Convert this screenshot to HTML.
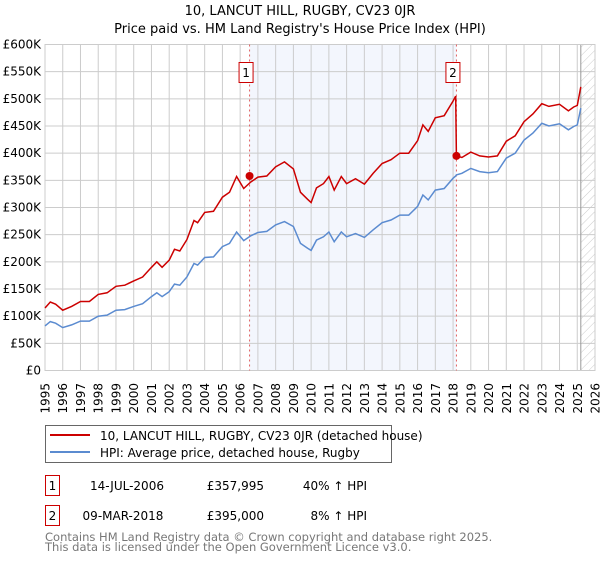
<!DOCTYPE html>
<html><head><meta charset="utf-8"><style>
body{margin:0;background:#fff;}
svg text{font-family:"DejaVu Sans","Liberation Sans",sans-serif;}
</style></head><body>
<svg width="600" height="560" xmlns="http://www.w3.org/2000/svg">
<defs><pattern id="hatch" width="6" height="6" patternUnits="userSpaceOnUse" patternTransform="rotate(45)"><line x1="0" y1="0" x2="0" y2="6" stroke="#ccc" stroke-width="1"/></pattern></defs>
<text x="300" y="15" text-anchor="middle" font-size="13">10, LANCUT HILL, RUGBY, CV23 0JR</text>
<text x="300" y="33" text-anchor="middle" font-size="13">Price paid vs. HM Land Registry's House Price Index (HPI)</text>
<g id="plot"></g>
<g>
<rect x="45.5" y="425.5" width="346" height="37" fill="#fff" stroke="#666"/>
<line x1="50" y1="435" x2="90" y2="435" stroke="#cc0000" stroke-width="2"/>
<text x="100" y="440" font-size="12">10, LANCUT HILL, RUGBY, CV23 0JR (detached house)</text>
<line x1="50" y1="452" x2="90" y2="452" stroke="#5b8bd0" stroke-width="2"/>
<text x="100" y="457" font-size="12">HPI: Average price, detached house, Rugby</text>
</g>
<g font-size="12">
<rect x="45.5" y="475.5" width="14" height="20" fill="#fff" stroke="#cc0000"/>
<text x="52.5" y="490" text-anchor="middle">1</text>
<text x="127" y="490" text-anchor="middle">14-JUL-2006</text>
<text x="264" y="490" text-anchor="end">£357,995</text>
<text x="367" y="490" text-anchor="end">40% ↑ HPI</text>
<rect x="45.5" y="505.5" width="14" height="20" fill="#fff" stroke="#cc0000"/>
<text x="52.5" y="520" text-anchor="middle">2</text>
<text x="123" y="520" text-anchor="middle">09-MAR-2018</text>
<text x="264" y="520" text-anchor="end">£395,000</text>
<text x="367" y="520" text-anchor="end">8% ↑ HPI</text>
</g>
<text x="45" y="541" font-size="11.5" fill="#777">Contains HM Land Registry data © Crown copyright and database right 2025.</text>
<text x="45" y="551" font-size="11.5" fill="#777">This data is licensed under the Open Government Licence v3.0.</text>
</svg>
<script>
const years=[1995,1995.3,1995.6,1996,1996.5,1997,1997.5,1998,1998.5,1999,1999.5,2000,2000.5,2001,2001.3,2001.6,2002,2002.3,2002.6,2003,2003.4,2003.6,2004,2004.5,2005,2005.4,2005.8,2006.2,2006.6,2007,2007.5,2008,2008.5,2009,2009.4,2009.8,2010,2010.3,2010.7,2011,2011.3,2011.7,2012,2012.5,2013,2013.5,2014,2014.5,2015,2015.5,2016,2016.3,2016.6,2017,2017.5,2018,2018.15,2018.19,2018.5,2019,2019.5,2020,2020.5,2021,2021.5,2022,2022.5,2023,2023.4,2024,2024.5,2024.8,2025,2025.2];
const hpiValues=[82,90,87,79,84,91,91,100,102,111,112,118,123,136,143,136,145,159,157,172,197,194,208,209,228,234,255,239,248,254,256,268,274,265,234,225,221,240,246,255,237,255,246,252,245,259,272,277,286,286,302,323,314,332,335,354,358,360,363,372,366,364,366,391,400,424,437,455,450,454,443,449,452,483];
const propertyValues=[115,126,122,111,118,127,127,140,143,155,157,165,172,190,200,190,203,223,220,241,276,272,291,293,319,328,357,335,347,356,358,375,384,371,328,315,309,336,344,357,332,357,344,353,343,363,381,388,400,400,423,452,440,465,469,496,505,395,392,402,395,393,395,422,432,458,472,491,486,490,478,485,488,522];
const yTicks=[0,50,100,150,200,250,300,350,400,450,500,550,600];
const yTickLabels=["£0","£50K","£100K","£150K","£200K","£250K","£300K","£350K","£400K","£450K","£500K","£550K","£600K"];
const xTicks=[1995,1996,1997,1998,1999,2000,2001,2002,2003,2004,2005,2006,2007,2008,2009,2010,2011,2012,2013,2014,2015,2016,2017,2018,2019,2020,2021,2022,2023,2024,2025,2026];
const sales=[{n:"1",year:2006.53,value:358},{n:"2",year:2018.19,value:395}];
const L=45,R=595,T=44.5,B=370.5;
const xs=y=>L+(y-1995)/(2026-1995)*(R-L);
const ys=v=>B-v/600*(B-T);
const NS="http://www.w3.org/2000/svg";
const g=document.getElementById('plot');
function mk(tag,attrs,parent){const e=document.createElementNS(NS,tag);for(const k in attrs)e.setAttribute(k,attrs[k]);(parent||g).appendChild(e);return e;}
const shade=mk('rect',{x:xs(sales[0].year),y:T,width:xs(sales[1].year)-xs(sales[0].year),height:B-T,fill:'#eef2fc',opacity:'0.7'});


const hatch=mk('rect',{x:xs(2025.2),y:T,width:R-xs(2025.2),height:B-T,fill:'url(#hatch)'});


yTicks.forEach((v,i)=>{
 const ln=mk('line',{x1:L,x2:R,y1:ys(v),y2:ys(v),stroke:'#ccc','stroke-width':1});
 
 
 const t=mk('text',{x:L-4,y:ys(v)+4,'text-anchor':'end','font-size':12});
 
 
 t.textContent=yTickLabels[i];
});
xTicks.forEach(yr=>{
 const ln=mk('line',{x1:xs(yr),x2:xs(yr),y1:T,y2:B,stroke:'#ccc','stroke-width':1});
 
 
 const t=mk('text',{x:0,y:0,'text-anchor':'end','font-size':12,transform:`translate(${xs(yr)+4.5},383) rotate(-90)`});
 
 
 t.textContent=yr;
});
const nowLine=mk('line',{x1:xs(2025.2),x2:xs(2025.2),y1:T,y2:B,stroke:'#999','stroke-width':1});


const frame=mk('rect',{x:L,y:T,width:R-L,height:B-T,fill:'none',stroke:'#ccc'});


sales.forEach(s=>{
 const ln=mk('line',{x1:xs(s.year),x2:xs(s.year),y1:T,y2:B,stroke:'#e06060','stroke-width':1,'stroke-dasharray':'2,3'});
 
 
});
const pts=arr=>years.map((y,i)=>xs(y).toFixed(1)+','+ys(arr[i]).toFixed(1)).join(' ');
const hpi=mk('polyline',{points:pts(hpiValues),fill:'none',stroke:'#5b8bd0','stroke-width':1.5});


const prop=mk('polyline',{points:pts(propertyValues),fill:'none',stroke:'#cc0000','stroke-width':1.5});


sales.forEach(s=>{
 const c=mk('circle',{cx:xs(s.year),cy:ys(s.value),r:4,fill:'#cc0000'});
 
 
 const b=mk('rect',{x:xs(s.year)-10.5,y:62.5,width:14,height:20,fill:'#fff',stroke:'#cc0000'});
 
 
 const t=mk('text',{x:xs(s.year)-3.5,y:77,'text-anchor':'middle','font-size':12});
 
 
 t.textContent=s.n;
});
</script>
</body></html>
